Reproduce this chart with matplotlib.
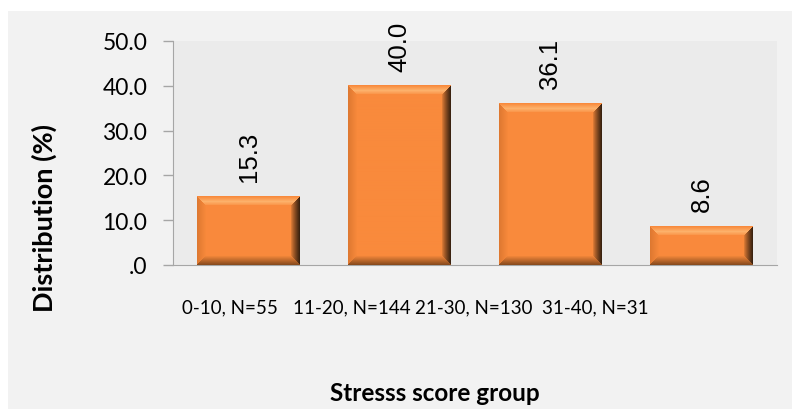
import numpy as np
import matplotlib
matplotlib.use("Agg")
import matplotlib.pyplot as plt
from matplotlib.patches import Rectangle

# stress score groups and their share of respondents
groups = ["0-10, N=55", "11-20, N=144", "21-30, N=130", "31-40, N=31"]
share = [15.3, 40.0, 36.1, 8.6]
yticks = [0, 10, 20, 30, 40, 50]
ytick_labels = [".0", "10.0", "20.0", "30.0", "40.0", "50.0"]

face = np.array([0xf9, 0x8a, 0x3c]) / 255.0


def bevel_image(w, h, b=9):
    # shaded face with a bevelled rim, w x h pixels
    yy, xx = np.mgrid[0:h, 0:w].astype(float)
    d_top = yy
    d_bot = h - 1 - yy
    d_left = xx
    d_right = w - 1 - xx
    img = np.tile(face, (h, w, 1))
    dist = np.stack([d_top, d_bot, d_left, d_right])
    side = dist.argmin(axis=0)
    dmin = dist.min(axis=0)
    t = np.clip(dmin / b, 0, 1)  # 0 at outer edge, 1 at inner edge

    light = np.array([0xfd, 0xb2, 0x6c]) / 255.0
    dark_r = np.array([0x3a, 0x22, 0x10]) / 255.0
    dark_b = np.array([0x8a, 0x4c, 0x1e]) / 255.0
    left_c = np.array([0xd8, 0x74, 0x2e]) / 255.0

    inside = dmin < b
    # top: light band peaking in the middle of the rim
    m = inside & (side == 0)
    k = (1 - np.abs(t - 0.55) / 0.55).clip(0, 1)[m][:, None]
    img[m] = face * (1 - k) + light * k
    # bottom: darker towards the edge
    m = inside & (side == 1)
    k = (1 - t[m])[:, None]
    img[m] = face * (1 - k) + dark_b * k
    # left: slightly darker edge
    m = inside & (side == 2)
    k = (1 - t[m])[:, None] * 0.8
    img[m] = face * (1 - k) + left_c * k
    # right: dark brown edge
    m = inside & (side == 3)
    k = ((1 - t[m]) ** 0.8)[:, None]
    img[m] = face * (1 - k) + dark_r * k
    return img


fig = plt.figure(figsize=(7.93, 4.10), dpi=100)
fig.patch.set_facecolor("white")
fig.patches.append(Rectangle((8 / 793, 0), 784 / 793, 1 - 12 / 410,
                             transform=fig.transFigure, facecolor="#f2f2f2",
                             edgecolor="none", zorder=-10))

ax = fig.add_axes([173 / 793, 1 - 266 / 410, 604 / 793, 224 / 410])
ax.set_facecolor("#ebebeb")

x = np.arange(len(groups))
bars = ax.bar(x, share, width=0.68, color=face, edgecolor="none", zorder=2)
ax.set_xlim(-0.5, len(groups) - 0.5)
ax.set_ylim(0, 50)

fig.canvas.draw()
for bar in bars:
    bb = bar.get_window_extent()
    w_px, h_px = int(round(bb.width)), int(round(bb.height))
    img = bevel_image(w_px, h_px)
    ax.imshow(img, extent=(bar.get_x(), bar.get_x() + bar.get_width(), 0, bar.get_height()),
              aspect="auto", interpolation="bilinear", zorder=3)
ax.set_xlim(-0.5, len(groups) - 0.5)
ax.set_ylim(0, 50)

for xi, v in zip(x, share):
    ax.annotate(f"{v:.1f}", (xi, v), xytext=(0, 11), textcoords="offset points",
                rotation=90, ha="center", va="bottom", fontsize=18.5,
                family="Liberation Sans", color="black", annotation_clip=False)

ax.set_yticks(yticks)
ax.set_yticklabels(ytick_labels, family="Lato", fontsize=16.5)
# category labels sit closer together than the bars
ax.set_xticks(x * 0.808 - 0.126)
ax.set_xticklabels(groups, family="Lato", fontsize=13.5)
ax.tick_params(axis="y", length=7, width=1, color="#a6a6a6", pad=11.5)
ax.tick_params(axis="x", length=0, pad=24)

for s in ["top", "right"]:
    ax.spines[s].set_visible(False)
ax.spines["left"].set_color("#a6a6a6")
ax.spines["bottom"].set_color("#a6a6a6")

fig.text(44 / 793, 1 - 218 / 410, "Distribution (%)", rotation=90, ha="center",
         va="center", family="Lato", fontweight="bold", fontsize=19.5)
fig.text(435 / 793, 1 - 394 / 410, "Stresss score group", ha="center",
         va="center", family="Lato", fontweight="bold", fontsize=17.5)

fig.savefig("out.png", dpi=100)
